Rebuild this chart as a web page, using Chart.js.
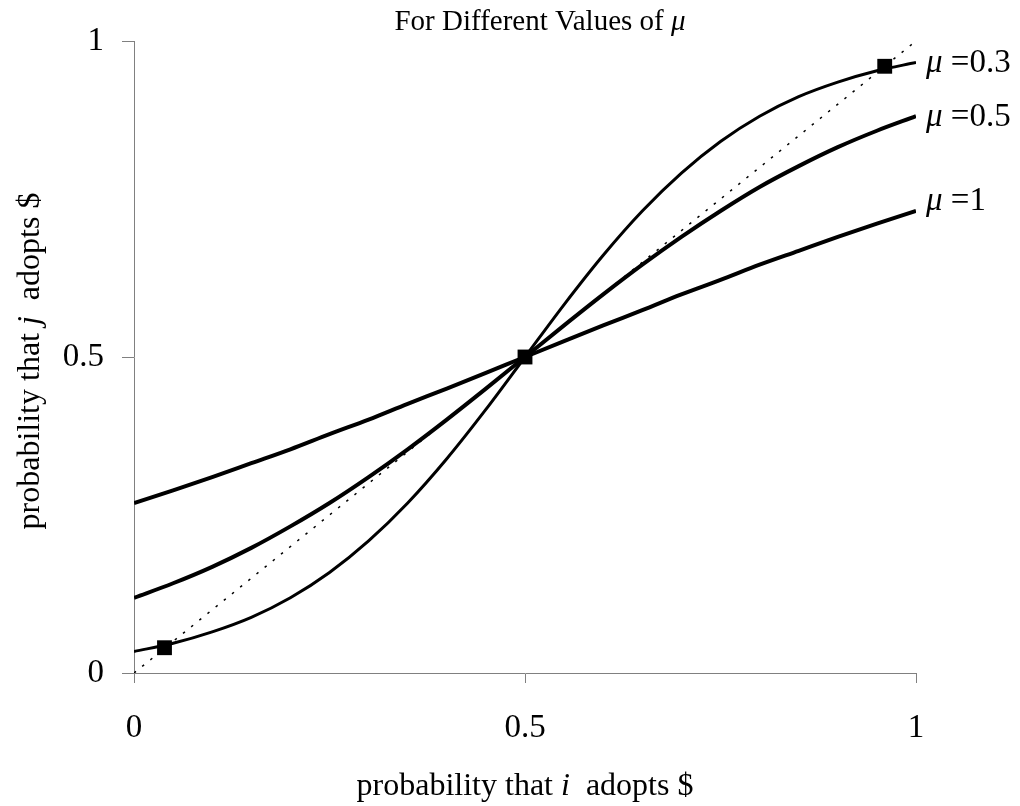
<!DOCTYPE html>
<html>
<head>
<meta charset="utf-8">
<script src="https://cdn.jsdelivr.net/npm/chart.js@4/dist/chart.umd.min.js"></script>
<style>
  html, body { margin: 0; padding: 0; background: #fff; }
  #wrap { width: 1020px; height: 806px; }
</style>
</head>
<body>
<div id="wrap"><canvas id="chart" width="1020" height="806"></canvas></div>
<script>
// x positions along the curves (probability that i adopts)
const xs = [0, 0.05, 0.1, 0.15, 0.2, 0.25, 0.3, 0.35, 0.4, 0.45, 0.5,
            0.55, 0.6, 0.65, 0.7, 0.75, 0.8, 0.85, 0.9, 0.95, 1];
// response curves
const mu1 = [0.269, 0.289, 0.310, 0.332, 0.354, 0.378, 0.401, 0.426, 0.450, 0.475, 0.5,
             0.525, 0.550, 0.574, 0.599, 0.622, 0.646, 0.668, 0.690, 0.711, 0.731];
const mu05 = [0.119, 0.142, 0.168, 0.198, 0.232, 0.269, 0.310, 0.354, 0.401, 0.450, 0.5,
              0.550, 0.599, 0.646, 0.690, 0.731, 0.769, 0.802, 0.832, 0.858, 0.881];
const mu03 = [0.034, 0.047, 0.065, 0.088, 0.119, 0.159, 0.209, 0.269, 0.339, 0.417, 0.5,
              0.583, 0.661, 0.731, 0.791, 0.841, 0.881, 0.912, 0.935, 0.953, 0.966];
// equilibrium points (squares) on the 45 degree line
const eqX = [0.039, 0.5, 0.96];
const eqY = [0.040, 0.5, 0.96];
const diagX = [0, 1];
const diagY = [0, 1];
const tickVals = [0, 0.5, 1];
const curveLabels = [['μ', ' =0.3'], ['μ', ' =0.5'], ['μ', ' =1']];

const SERIF = '"Liberation Serif", "Times New Roman", serif';

function pts(xa, ya) {
    return xa.map((x, i) => ({ x: x, y: ya[i] }));
}

// draw a run of text pieces, some italic
function drawRich(ctx, parts, x, y, size, align) {
    let total = 0;
    parts.forEach(p => {
        ctx.font = (p[1] ? 'italic ' : '') + size + 'px ' + SERIF;
        total += ctx.measureText(p[0]).width;
    });
    let cx = align === 'center' ? x - total / 2 : x;
    ctx.textAlign = 'left';
    ctx.textBaseline = 'middle';
    parts.forEach(p => {
        ctx.font = (p[1] ? 'italic ' : '') + size + 'px ' + SERIF;
        ctx.fillText(p[0], cx, y);
        cx += ctx.measureText(p[0]).width;
    });
}

const textPlugin = {
    id: 'texts',
    afterDraw(chart) {
        const ctx = chart.ctx;
        const xs_ = chart.scales.x, ys_ = chart.scales.y;
        ctx.save();
        ctx.fillStyle = '#000';
        // title
        drawRich(ctx, [['For Different Values of ', false], ['μ', true]], 540, 22, 29, 'center');
        // x axis title
        drawRich(ctx, [['probability that ', false], ['i', true], ['  adopts $', false]], 525, 787, 32, 'center');
        // y axis title (rotated)
        ctx.save();
        ctx.translate(31, 361);
        ctx.rotate(-Math.PI / 2);
        drawRich(ctx, [['probability that ', false], ['j', true], ['  adopts $', false]], 0, 0, 32, 'center');
        ctx.restore();
        // curve labels at the right end
        const ends = [mu03[mu03.length - 1], mu05[mu05.length - 1], mu1[mu1.length - 1]];
        const offs = [1, 1, -10];
        ends.forEach((v, i) => {
            const py = ys_.getPixelForValue(v) + offs[i];
            drawRich(ctx, [[curveLabels[i][0], true], [curveLabels[i][1], false]],
                     xs_.right + 10, py, 33, 'left');
        });
        ctx.restore();
    }
};

new Chart(document.getElementById('chart'), {
    type: 'line',
    data: {
        datasets: [
            { data: pts(diagX, diagY), borderColor: '#000', borderWidth: 1.5, borderDash: [2.5, 8],
              pointRadius: 0, fill: false },
            { data: pts(xs, mu1), borderColor: '#000', borderWidth: 4, pointRadius: 0,
              cubicInterpolationMode: 'monotone', fill: false },
            { data: pts(xs, mu05), borderColor: '#000', borderWidth: 4, pointRadius: 0,
              cubicInterpolationMode: 'monotone', fill: false },
            { data: pts(xs, mu03), borderColor: '#000', borderWidth: 3, pointRadius: 0,
              cubicInterpolationMode: 'monotone', fill: false },
            { data: pts(eqX, eqY), showLine: false, pointStyle: 'rect', pointRadius: 10.5,
              backgroundColor: '#000', borderColor: '#000', borderWidth: 0 }
        ]
    },
    options: {
        responsive: false,
        animation: false,
        layout: { padding: { top: 41, right: 104, left: 0, bottom: 0 } },
        plugins: { legend: { display: false }, tooltip: { enabled: false } },
        scales: {
            x: {
                type: 'linear', min: 0, max: 1,
                afterFit(s) { s.height = 133; },
                afterBuildTicks(s) { s.ticks = tickVals.map(v => ({ value: v })); },
                border: { color: '#808080', width: 1 },
                grid: { drawOnChartArea: false, drawTicks: true, tickLength: 10, color: '#808080' },
                ticks: { color: '#000', padding: 26, maxRotation: 0,
                         font: { family: SERIF, size: 33 },
                         callback: v => String(v) }
            },
            y: {
                type: 'linear', min: 0, max: 1,
                afterFit(s) { s.width = 134; },
                afterBuildTicks(s) { s.ticks = tickVals.map(v => ({ value: v })); },
                border: { color: '#808080', width: 1 },
                grid: { drawOnChartArea: false, drawTicks: true, tickLength: 12, color: '#808080' },
                ticks: { color: '#000', padding: 18,
                         font: { family: SERIF, size: 33 },
                         callback: v => String(v) }
            }
        }
    },
    plugins: [textPlugin]
});
</script>
</body>
</html>
